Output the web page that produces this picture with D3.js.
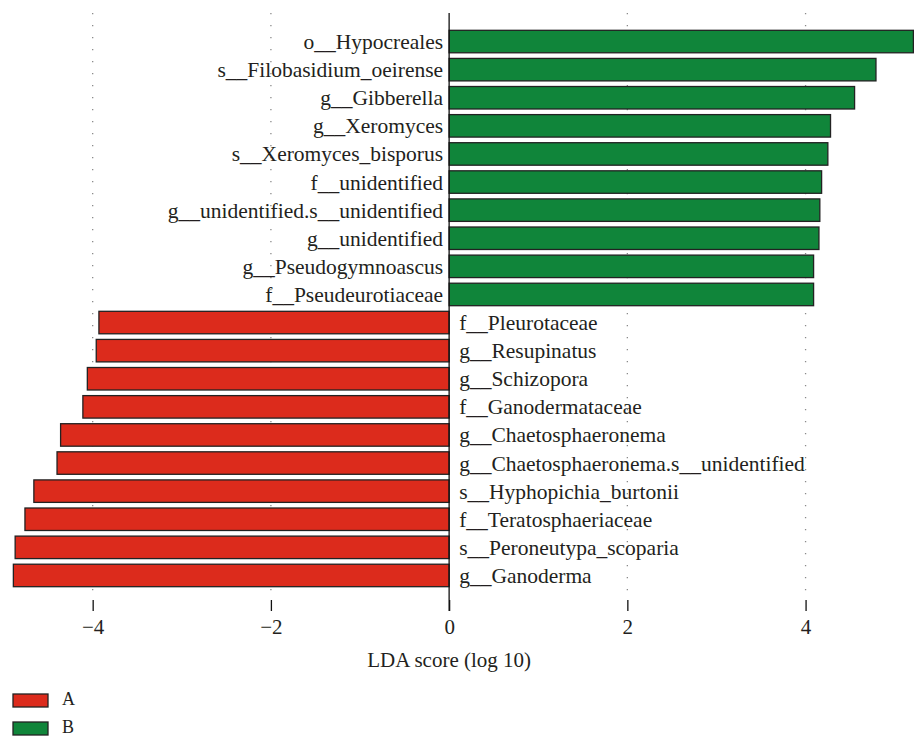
<!DOCTYPE html>
<html>
<head>
<meta charset="utf-8">
<script src="https://cdn.jsdelivr.net/npm/d3@7"></script>
<style>
  html, body { margin: 0; padding: 0; background: #fff; overflow: hidden; }
  svg text { font-family: "Liberation Serif", "DejaVu Serif", serif; fill: #231f20; }
</style>
</head>
<body>
<svg id="chart" width="914" height="737"></svg>
<script>
// Taxa ordered top to bottom, with LDA scores (log 10); group A scores are negative.
const taxa = [
  "o__Hypocreales",
  "s__Filobasidium_oeirense",
  "g__Gibberella",
  "g__Xeromyces",
  "s__Xeromyces_bisporus",
  "f__unidentified",
  "g__unidentified.s__unidentified",
  "g__unidentified",
  "g__Pseudogymnoascus",
  "f__Pseudeurotiaceae",
  "f__Pleurotaceae",
  "g__Resupinatus",
  "g__Schizopora",
  "f__Ganodermataceae",
  "g__Chaetosphaeronema",
  "g__Chaetosphaeronema.s__unidentified",
  "s__Hyphopichia_burtonii",
  "f__Teratosphaeriaceae",
  "s__Peroneutypa_scoparia",
  "g__Ganoderma"
];
const ldaScores = [
  5.21, 4.79, 4.55, 4.28, 4.25, 4.18, 4.16, 4.15, 4.09, 4.09,
  -3.93, -3.96, -4.06, -4.11, -4.36, -4.40, -4.66, -4.76, -4.87, -4.89
];
const groups = [
  "B", "B", "B", "B", "B", "B", "B", "B", "B", "B",
  "A", "A", "A", "A", "A", "A", "A", "A", "A", "A"
];
const legendGroups = ["A", "B"];
const groupColors = ["#dc2b1c", "#10853a"];
const tickValues = [-4, -2, 0, 2, 4];
const axisTitle = "LDA score (log 10)";

const rows = taxa.map((t, i) => ({ taxon: t, score: ldaScores[i], group: groups[i] }));

const svg = d3.select("#chart");
const color = d3.scaleOrdinal().domain(legendGroups).range(groupColors);

const x = d3.scaleLinear().domain([-5.04, 5.21]).range([0, 913.4]);
const y = d3.scaleBand().domain(taxa).range([27.5, 589.5]).paddingInner(0.2).paddingOuter(0.1);

const plotTop = 13, gridBottom = 593, axisY = 600;
const fontSize = 21.5;

// dotted vertical grid lines
svg.append("g").selectAll("line")
  .data(tickValues.filter(d => d !== 0))
  .join("line")
  .attr("x1", d => x(d)).attr("x2", d => x(d))
  .attr("y1", plotTop).attr("y2", gridBottom)
  .attr("stroke", "#8a8a8a").attr("stroke-width", 1.3)
  .attr("stroke-dasharray", "1.3,10.7");

// bars
svg.append("g").selectAll("rect")
  .data(rows)
  .join("rect")
  .attr("x", d => x(Math.min(0, d.score)))
  .attr("y", d => y(d.taxon))
  .attr("width", d => Math.abs(x(d.score) - x(0)))
  .attr("height", y.bandwidth())
  .attr("fill", d => color(d.group))
  .attr("stroke", "#222")
  .attr("stroke-width", 1.3);

// zero line
svg.append("line")
  .attr("x1", x(0)).attr("x2", x(0))
  .attr("y1", plotTop).attr("y2", axisY + 11)
  .attr("stroke", "#111").attr("stroke-width", 1.3);

// taxon labels on the opposite side of each bar
svg.append("g").selectAll("text")
  .data(rows)
  .join("text")
  .attr("x", d => d.score > 0 ? x(0) - 6 : x(0) + 10)
  .attr("y", d => y(d.taxon) + y.bandwidth() / 2)
  .attr("dy", "0.35em")
  .attr("text-anchor", d => d.score > 0 ? "end" : "start")
  .attr("font-size", fontSize)
  .text(d => d.taxon);

// bottom axis
const axis = d3.axisBottom(x).tickValues(tickValues).tickSize(11).tickPadding(8);
const gx = svg.append("g").attr("transform", `translate(0,${axisY})`).call(axis);
gx.select(".domain").remove();
gx.selectAll(".tick line").attr("stroke", "#111").attr("stroke-width", 1.3);
gx.selectAll(".tick text")
  .attr("font-size", 21)
  .attr("font-family", "Liberation Serif, DejaVu Serif, serif")
  .attr("fill", "#231f20");

svg.append("text")
  .attr("x", x(0)).attr("y", 667)
  .attr("text-anchor", "middle")
  .attr("font-size", 21)
  .text(axisTitle);

// legend
const legend = svg.append("g").selectAll("g")
  .data(legendGroups)
  .join("g")
  .attr("transform", (d, i) => `translate(13,${694 + i * 28})`);
legend.append("rect")
  .attr("width", 35).attr("height", 13)
  .attr("fill", d => color(d))
  .attr("stroke", "#222").attr("stroke-width", 1.3);
legend.append("text")
  .attr("x", 49).attr("y", 11)
  .attr("font-size", 18)
  .text(d => d);
</script>
</body>
</html>
